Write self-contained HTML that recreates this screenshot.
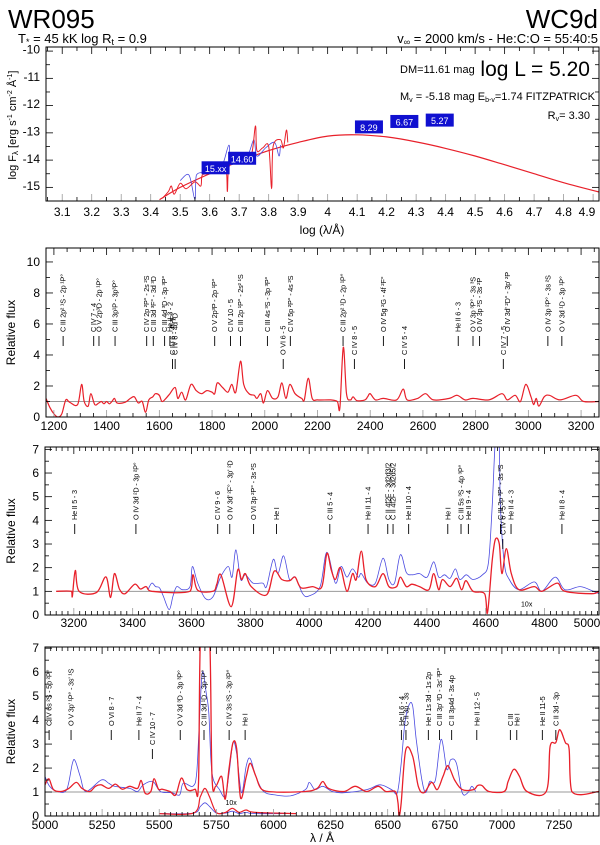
<!DOCTYPE html>
<html><head><meta charset="utf-8"><style>
html,body{margin:0;padding:0;background:#fff;}
svg{display:block;font-family:"Liberation Sans",sans-serif;}
</style></head><body>
<svg id="c" width="600" height="845" viewBox="0 0 600 845">
<text x="8" y="28" font-size="26">WR095</text>
<text x="18" y="43" font-size="13">T<tspan font-size="9" dy="2">*</tspan><tspan dy="-2"> =  45 kK  log R</tspan><tspan font-size="9" dy="2">t</tspan><tspan dy="-2"> = 0.9</tspan></text>
<text x="598" y="28" font-size="26" text-anchor="end">WC9d</text>
<text x="598" y="43" font-size="13" text-anchor="end">v<tspan font-size="9" dy="2">∞</tspan><tspan dy="-2"> = 2000 km/s - He:C:O = 55:40:5</tspan></text>
<text x="400" y="73" font-size="11">DM=11.61 mag</text>
<text x="590" y="76" font-size="21" text-anchor="end">log L = 5.20</text>
<text x="400" y="100" font-size="11">M<tspan font-size="7" dy="2">v</tspan><tspan dy="-2"> = -5.18 mag  E</tspan><tspan font-size="7" dy="2">b-v</tspan><tspan dy="-2">=1.74 FITZPATRICK</tspan></text>
<text x="590" y="119" font-size="11" text-anchor="end">R<tspan font-size="7" dy="2">v</tspan><tspan dy="-2">= 3.30</tspan></text>
<text transform="translate(16,125) rotate(-90)" font-size="11" text-anchor="middle">log F<tspan font-size="8" dy="2">λ</tspan><tspan dy="-2"> [erg s</tspan><tspan font-size="7" dy="-4">-1</tspan><tspan dy="4"> cm</tspan><tspan font-size="7" dy="-4">-2</tspan><tspan dy="4"> Å</tspan><tspan font-size="7" dy="-4">-1</tspan><tspan dy="4">]</tspan></text>
<text x="322" y="234" font-size="12" text-anchor="middle">log (λ/Å)</text>
<text x="322" y="842" font-size="12" text-anchor="middle">λ / Å</text>
</svg>
<script>
// ---- SED panel data ----
const sedModelX=[3.43,3.5,3.6,3.7,3.8,3.9,4.0,4.1,4.2,4.3,4.4,4.5,4.6,4.7,4.8,4.92];
const sedModelY=[-15.5,-15.05,-14.55,-14.1,-13.7,-13.4,-13.17,-13.12,-13.2,-13.38,-13.62,-13.9,-14.22,-14.55,-14.88,-15.22];
const sedRedX=[3.44,3.46,3.47,3.48,3.5,3.52,3.55,3.57,3.575,3.6,3.63,3.655,3.66,3.665,3.7,3.74,3.755,3.76,3.78,3.8,3.81,3.815,3.84,3.85,3.86,3.865];
const sedRedY=[-15.45,-15.2,-15.0,-15.3,-14.9,-15.1,-14.85,-15.0,-14.6,-14.55,-14.45,-14.35,-15.2,-14.3,-14.05,-13.9,-12.8,-13.7,-13.6,-13.55,-15.1,-13.55,-13.3,-13.6,-12.95,-13.4];
const sedBlueX=[3.5,3.53,3.55,3.555,3.6,3.64,3.665,3.67,3.7,3.73,3.75,3.76,3.79,3.82,3.835,3.84];
const sedBlueY=[-14.8,-14.6,-15.5,-14.6,-14.5,-14.3,-13.5,-14.2,-14.0,-13.85,-13.3,-13.9,-13.6,-13.4,-13.9,-13.5];
const magLabels=["15.xx","14.60","8.29","6.67","5.27"];
const magX=[3.62,3.71,4.14,4.26,4.38];
const magY=[-14.35,-14.0,-12.85,-12.65,-12.6];
const sedXTicks=[3.1,3.2,3.3,3.4,3.5,3.6,3.7,3.8,3.9,4.0,4.1,4.2,4.3,4.4,4.5,4.6,4.7,4.8,4.9];
const sedYTicks=[-10,-11,-12,-13,-14,-15];
// ---- UV panel ----
const uvWave=[1170,1185,1200,1215,1230,1245,1260,1290,1305,1315,1330,1340,1355,1370,1380,1390,1400,1410,1420,1430,1440,1470,1490,1505,1520,1535,1548,1560,1575,1585,1600,1610,1625,1640,1660,1670,1685,1700,1720,1740,1760,1780,1800,1810,1820,1840,1860,1875,1890,1908,1920,1940,1960,1970,1985,1995,2010,2030,2050,2065,2080,2095,2115,2140,2150,2165,2180,2200,2250,2275,2285,2298,2310,2325,2335,2350,2380,2390,2400,2420,2450,2500,2525,2540,2580,2610,2640,2700,2730,2760,2790,2850,2900,2920,2950,2970,2990,3010,3020,3030,3040,3060,3080,3120,3180,3210,3268];
const uvFlux=[1.2,0.6,0.2,0,0.2,1.1,0.95,0.8,2.1,1.0,0.7,1.5,0.8,0.9,1.0,0.85,1.0,0.85,1.0,1.2,0.9,0.95,1.2,1.3,0.9,1.0,0.3,1.1,1.3,1.5,1.4,1.0,1.2,1.5,1.9,1.2,1.6,1.1,2.1,1.7,1.5,1.7,1.6,1.5,2.2,1.9,1.6,2.1,1.6,3.6,2.1,1.5,1.4,1.2,1.5,0.9,1.7,1.2,1.3,2.2,1.2,2.1,1.5,1.2,1.1,2.5,1.2,1.1,1.1,1.0,0.6,4.5,1.5,1.1,1.3,1.05,1.1,1.3,1.5,1.1,1.2,1.1,1.8,1.1,1.2,1.5,1.1,1.2,1.4,1.1,1.2,1.1,1.5,1.1,1.4,1.0,2.1,1.3,0.8,1.2,0.7,1.3,1.4,1.1,1.4,1.0,1.0];
const uvXTicks=[1200,1400,1600,1800,2000,2200,2400,2600,2800,3000,3200];
const uvYTicks=[0,2,4,6,8,10];
const uvLineWave=[1235,1351,1371,1432,1552,1577,1620,1640,1650,1660,1810,1870,1908,2010,2097,2070,2297,2340,2450,2530,2734,2790,2815,2905,2920,3074,3127];
const uvLineText=["C III 2p² ¹S - 2p ¹P°","C IV 7 - 4","O V 2p³D - 2p ¹P°","C III 3p¹P - 3p³P°","C IV 2p ²P° - 2s ²S","C III 3d ³F° - 3d ³D","C III 4d ³D - 3p ³P°","He II 3 - 2","C IV 6 - 4f ²F°","C IV 6 - 4d ²D","O V 2p³P - 2p ¹P°","C IV 10 - 5","C III 2p ¹P° - 2s² ¹S","C III 4s ³S - 3p ³P°","C IV 5p ²P° - 4s ²S","O VI 6 - 5","C III 2p² ¹D - 2p ¹P°","C IV 8 - 5","O IV 5g ²G - 4f ²F°","C IV 5 - 4","He II 6 - 3","O V 3p ³P° - 3s ³S","O IV 3p ²S - 3s ²P","C IV 7 - 5","O IV 3d' ²D° - 3p' ²P","O IV 3p ²P° - 3s ²S","O V 3d ¹D - 3p ¹P°"];
const uvLineLevel=[0,0,0,0,0,0,0,0,1,1,0,0,0,0,0,1,0,1,0,1,0,0,0,1,0,0,0];
// ---- Blue optical panel ----
const b3Wave=[3140,3192,3195,3205,3218,3277,3309,3325,3338,3355,3374,3407,3426,3446,3465,3595,3605,3621,3673,3686,3700,3735,3757,3770,3783,3803,3855,3881,3907,3933,3952,3972,4011,4043,4060,4075,4089,4106,4128,4147,4160,4177,4193,4225,4251,4271,4297,4310,4330,4349,4375,4407,4423,4440,4453,4479,4501,4518,4533,4557,4596,4606,4622,4633,4646,4655,4670,4687,4713,4765,4791,4843,4869,4960,4985];
const b3Model=[1,1,0.8,1.88,1.0,0.95,1.61,0.74,1.75,1.1,0.9,1.3,1.1,1.2,1.0,1.0,1.7,1.05,1.0,1.3,1.7,0.35,1.9,1.5,1.75,1.2,0.85,1.85,1.5,1.45,1.6,1.15,1.2,1.2,2.6,1.9,1.5,2.0,1.0,1.75,1.5,2.7,1.5,1.2,1.75,1.2,1.2,1.6,1.2,1.3,1.2,1.07,1.75,1.07,1.5,1.2,1.55,1.07,1.45,1.0,0.9,0.1,2.3,3.2,3.0,1.75,2.8,1.75,1.07,1.2,1.0,1.35,1.0,0.9,1.0];
const b3ObsWave=[3452,3465,3478,3491,3504,3524,3537,3550,3569,3595,3603,3621,3647,3673,3699,3725,3738,3751,3767,3783,3809,3842,3855,3878,3894,3913,3933,3952,3978,3998,4037,4060,4089,4108,4128,4147,4167,4177,4199,4225,4251,4271,4290,4310,4330,4349,4375,4401,4423,4440,4460,4479,4497,4512,4534,4557,4589,4609,4622,4633,4645,4650,4663,4680,4713,4765,4791,4836,4869,4921,4966,4985];
const b3Obs=[1.07,1.35,1.2,1.15,0.8,0.23,0.8,1.2,1.07,1.2,2.05,1.35,0.7,0.77,1.6,2.05,1.6,2.75,1.5,1.7,1.35,1.35,1.2,2.35,1.75,2.5,1.5,1.6,0.9,0.8,1.2,2.65,1.35,2.05,1.6,1.95,1.6,1.75,1.35,1.35,2.4,1.5,1.35,2.55,1.8,1.7,1.75,1.6,2.25,1.6,1.7,1.55,1.95,1.5,1.7,1.5,1.7,2.2,4.6,7.4,7.4,4.6,2.2,1.5,1.07,1.4,1.0,1.6,1.07,1.2,1.0,0.9];
const b3XTicks=[3200,3400,3600,3800,4000,4200,4400,4600,4800,5000];
const b3YTicks=[0,1,2,3,4,5,6,7];
const b3LineWave=[3203,3411,3689,3730,3811,3889,4070,4200,4267,4285,4338,4471,4516,4541,4658,4650,4686,4859];
const b3LineText=["He II 5 - 3","O IV 3d ²D - 3p ²P°","C IV 9 - 6","O IV 3d' ²F° - 3p' ²D","O VI 3p ²P° - 3s ²S","He I","C III 5 - 4","He II 11 - 4","C II 4f2F - 3d2d3/2","C II 4f2F - 3d2d5/2","He II 10 - 4","He I","C III 5s ³S - 4p ³P°","He II 9 - 4","C IV 6 - 5","C III 3p ³P° - 3s ³S","He II 4 - 3","He II 8 - 4"];
const b3LineLevel=[0,0,0,0,0,0,0,0,0,0,0,0,0,0,1,0,0,0];
// ---- Red optical panel ----
const r4Wave=[5000,5017,5037,5070,5104,5137,5162,5196,5221,5246,5279,5308,5338,5371,5405,5421,5438,5463,5477,5497,5514,5547,5572,5597,5622,5656,5672,5682,5719,5731,5747,5773,5789,5806,5823,5839,5856,5881,5898,5923,5948,6007,6140,6191,6216,6241,6308,6358,6408,6458,6492,6533,6545,6550,6559,6579,6609,6634,6659,6692,6717,6742,6764,6793,6826,6876,6893,6913,6943,7010,7027,7052,7077,7110,7194,7211,7236,7253,7278,7294,7306,7425];
const r4Model=[1.3,1.55,1.1,1.02,1.15,1.4,1.15,1.02,1.24,1.3,1.15,1.33,1.12,1.24,1.15,1.48,0.95,1.02,1.55,1.12,1.12,1.02,0.88,1.58,1.1,1.12,1.37,7.8,7.8,1.65,1.24,1.65,0.7,2.0,3.06,2.8,0.75,1.65,2.2,1.65,1.12,1.0,1.02,1.15,1.44,1.15,1.02,1.24,1.02,1.24,1.02,1.02,0.55,0,0.55,2.75,2.5,1.24,0.97,1.4,1.1,1.65,2.1,1.5,1.1,1.1,1.27,1.27,1.02,1.02,1.44,1.95,1.65,1.02,1.02,2.9,3.06,3.6,3.06,2.8,1.02,1.02];
const r4ObsWave=[5000,5020,5054,5095,5120,5132,5154,5179,5246,5279,5304,5371,5405,5430,5472,5505,5555,5589,5605,5647,5664,5676,5689,5706,5717,5731,5764,5789,5806,5823,5839,5860,5881,5898,5923,5957,6007,6074,6140,6157,6182,6216,6258,6308,6408,6467,6517,6542,6559,6575,6592,6609,6625,6650,6667,6684,6709,6734,6759,6776,6801,6826,6851,6868,6885];
const r4Obs=[1.65,1.24,1.02,1.1,2.2,2.3,1.65,1.02,1.5,1.37,1.24,1.15,1.02,1.3,1.44,1.02,0.97,0.88,1.37,1.24,1.8,4.0,6.0,5.1,4.3,1.8,1.1,0.82,1.8,3.06,2.6,0.97,2.1,2.4,1.65,1.02,0.88,0.84,1.1,1.4,1.1,1.24,1.02,0.97,1.1,1.3,1.1,0.97,2.2,3.85,4.6,4.6,3.2,1.5,0.97,1.44,1.5,3.2,1.95,2.35,2.2,0.97,0.97,1.24,1.02];
const r4XTicks=[5000,5250,5500,5750,6000,6250,6500,6750,7000,7250];
const r4YTicks=[0,1,2,3,4,5,6,7];
const r4LineWave=[5018,5114,5290,5411,5470,5592,5696,5806,5876,6560,6580,6678,6727,6780,6890,7037,7065,7177,7236];
const r4LineText=["C IV 6s ²S - 5p ²P°","O V 3p' ¹P° - 3s' ¹S","O VI 8 - 7","He II 7 - 4","C IV 10 - 7","O V 3d ³D - 3p ³P°","C III 3d ¹D - 3p ¹P°","C IV 3s ²S - 3p ²P°","He I","He II 6 - 4","C II 3p - 3s","He I 1s 3d - 1s 2p","C III 3p' ³D - 3s' ³P°","C II 3p4d - 3s 4p","He II 12 - 5","C III","He I","He II 11-5","C II 3d - 3p"];
const r4LineLevel=[0,0,0,0,1,0,0,0,0,0,0,0,0,0,0,0,0,0,0];
const insetWave=[5500,5650,5680,5700,5720,5750,5790,5820,5850,5880,5920,6100];
const insetModel=[0.1,0.12,0.8,1.15,0.8,0.15,0.15,0.32,0.15,0.25,0.15,0.1];
const insetObs=[0.1,0.12,0.4,0.55,0.4,0.12,0.12,0.2,0.1,0.15,0.1,0.1];

const NS="http://www.w3.org/2000/svg";
const svg=document.getElementById('c');
function mk(tag,attrs,parent){const e=document.createElementNS(NS,tag);for(const k in attrs)e.setAttribute(k,attrs[k]);(parent||svg).appendChild(e);return e;}
function lin(d0,d1,r0,r1){return v=>r0+(v-d0)*(r1-r0)/(d1-d0);}
function pathOf(xs,ys,sx,sy){
  const P=xs.map((x,i)=>[sx(x),sy(ys[i])]);
  let d='M'+P[0][0].toFixed(1)+','+P[0][1].toFixed(1);
  for(let i=0;i<P.length-1;i++){
    const p0=P[Math.max(0,i-1)],p1=P[i],p2=P[i+1],p3=P[Math.min(P.length-1,i+2)];
    const c1=[p1[0]+(p2[0]-p0[0])/6,p1[1]+(p2[1]-p0[1])/6];
    const c2=[p2[0]-(p3[0]-p1[0])/6,p2[1]-(p3[1]-p1[1])/6];
    c1[0]=Math.min(Math.max(c1[0],p1[0]),p2[0]);c2[0]=Math.min(Math.max(c2[0],p1[0]),p2[0]);
    d+='C'+c1[0].toFixed(1)+','+c1[1].toFixed(1)+' '+c2[0].toFixed(1)+','+c2[1].toFixed(1)+' '+p2[0].toFixed(1)+','+p2[1].toFixed(1);
  }
  return d;
}

function panel(name,L,T,R,B,xd,yd,xt,yt,xMinor,yMinor,ylab,labY){
  const sx=lin(xd[0],xd[1],L,R), sy=lin(yd[0],yd[1],B,T);
  const g=mk('g',{});
  
  
  const clip=mk('clipPath',{id:name+'-clip'},g);
  mk('rect',{x:L,y:T,width:R-L,height:B-T},clip);
  const plot=mk('g',{'clip-path':'url(#'+name+'-clip)'},g);
  
  
  const tg=mk('g',{stroke:'#000','stroke-width':0.8},g);
  
  
  for(let v=xd[0]-((xd[0]%xMinor)+xMinor)%xMinor+xMinor; v<xd[1]; v+=xMinor){
    const X=sx(v); const maj=xt.some(t=>Math.abs(t-v)<xMinor/4);
    const len=maj?7:4;
    mk('line',{x1:X,y1:B,x2:X,y2:B-len,stroke:maj?'#999':'#000'},tg);
    mk('line',{x1:X,y1:T,x2:X,y2:T+len},tg);
  }
  for(let v=yd[0]; v<=yd[1]+1e-9; v+=yMinor){
    const Y=sy(v); const maj=yt.some(t=>Math.abs(t-v)<yMinor/4);
    const len=maj?7:4;
    mk('line',{x1:L,y1:Y,x2:L+len,y2:Y},tg);
    mk('line',{x1:R,y1:Y,x2:R-len,y2:Y},tg);
  }
  xt.forEach(v=>{const X=Math.min(sx(v),R-12);
    const t=mk('text',{x:X,y:labY,'font-size':12,'text-anchor':'middle'},g);t.textContent=String(v);
    
    });
  yt.forEach(v=>{const t=mk('text',{x:L-6,y:sy(v)+4,'font-size':12,'text-anchor':'end'},g);t.textContent=String(v);
    
    });
  const fr=mk('rect',{x:L,y:T,width:R-L,height:B-T,fill:'none',stroke:'#000','stroke-width':1},g);
  
  
  if(ylab){const t=mk('text',{transform:`translate(${ylab},${(T+B)/2}) rotate(-90)`,'font-size':12,'text-anchor':'middle'},g);t.textContent='Relative flux';
    
    }
  return {sx,sy,plot,g,L,R,T,B};
}
function line(p,xs,ys,color,w,name){
  const e=mk('path',{d:pathOf(xs,ys,p.sx,p.sy),fill:'none',stroke:color,'stroke-width':w,'stroke-linejoin':'round'},p.plot);
  
  
}
function contin(p,x0,x1){
  const e=mk('line',{x1:p.sx(x0),x2:p.sx(x1),y1:p.sy(1),y2:p.sy(1),stroke:'#999','stroke-width':1},p.plot);
  
  
}
function labels(p,waves,texts,levels,yTop,yLow,name){
  const lg=mk('g',{},p.g);
  
  
  waves.forEach((w,i)=>{
    const X=p.sx(w); const base=levels[i]?yLow:yTop;
    mk('line',{x1:X,x2:X,y1:base+4,y2:base+14,stroke:'#000','stroke-width':0.9},lg);
    const t=mk('text',{transform:`translate(${X+2.5},${base}) rotate(-90)`,'font-size':7.3,'letter-spacing':'-0.2'},lg);
    t.textContent=texts[i];
    
    
  });
}

const p1=panel('sed',46,47,599,201,[3.045,4.92],[-15.55,-9.9],sedXTicks,sedYTicks,0.05,0.5,0,216);
line(p1,sedModelX,sedModelY,'#e8202a',1.2,'sed-model-curve');
line(p1,sedBlueX,sedBlueY,'#4a4ae0',0.8,'sed-observed-blue');
line(p1,sedRedX,sedRedY,'#e8202a',1.0,'sed-observed-red');
magLabels.forEach((m,i)=>{
  const X=p1.sx(magX[i]),Y=p1.sy(magY[i]);
  const r=mk('rect',{x:X-14,y:Y-7,width:28,height:13,fill:'#1010d0'},p1.g);
  
  
  const t=mk('text',{x:X,y:Y+3.5,'font-size':9,fill:'#fff','text-anchor':'middle'},p1.g);
  t.textContent=m;
  
  
});

const p2=panel('uv',46,248,599,417,[1170,3268],[0,10.9],uvXTicks,uvYTicks,50,1,15,430);
contin(p2,1170,3268);
line(p2,uvWave,uvFlux,'#e8202a',1.2,'uv-model-spectrum');
labels(p2,uvLineWave,uvLineText,uvLineLevel,332,355,'uv');

const p3=panel('blue',45,447,599,615,[3102,4985],[0,7.1],b3XTicks,b3YTicks,20,0.5,15,627);
contin(p3,3140,4985);
line(p3,b3ObsWave,b3Obs,'#4a4ae0',0.8,'blue-observed-spectrum');
line(p3,b3Wave,b3Model,'#e8202a',1.3,'blue-model-spectrum');
labels(p3,b3LineWave,b3LineText,b3LineLevel,520,535,'blue');
{const t=mk('text',{x:p3.sx(4720),y:p3.sy(0.35),'font-size':7},p3.g);t.textContent='10x';

}

const p4=panel('red',45,647,599,816,[5000,7425],[0,7.05],r4XTicks,r4YTicks,25,0.5,15,829);
contin(p4,5000,7425);
line(p4,r4ObsWave,r4Obs,'#4a4ae0',0.8,'red-observed-spectrum');
line(p4,r4Wave,r4Model,'#e8202a',1.3,'red-model-spectrum');
line(p4,insetWave,insetObs,'#4a4ae0',0.8,'red-inset-observed');
line(p4,insetWave,insetModel,'#e8202a',1.2,'red-inset-model');
labels(p4,r4LineWave,r4LineText,r4LineLevel,726,745,'red');
{const t=mk('text',{x:p4.sx(5790),y:p4.sy(0.45),'font-size':7},p4.g);t.textContent='10x';

}
</script>
</body></html>
